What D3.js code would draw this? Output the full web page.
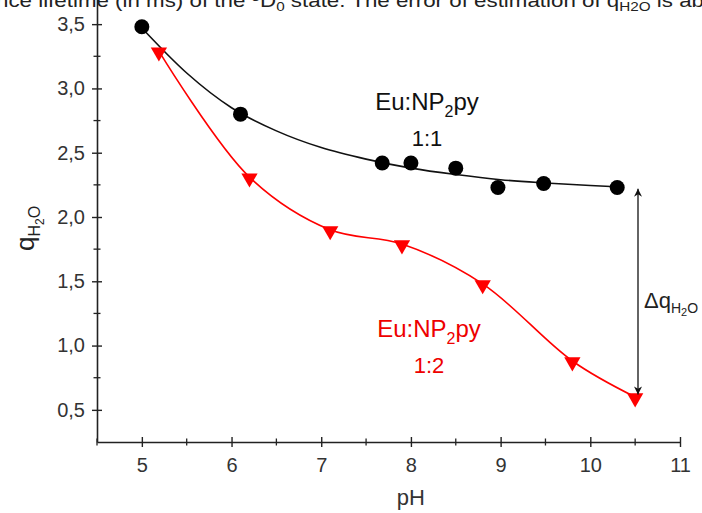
<!DOCTYPE html>
<html>
<head>
<meta charset="utf-8">
<script src="https://cdn.jsdelivr.net/npm/d3@7"></script>
<style>
  body { margin: 0; background: #fff; }
  svg { display: block; font-family: "Liberation Sans", Arial, sans-serif; }
</style>
</head>
<body>
<div id="chart"></div>
<script>
// données
const blackPH = [5.0, 6.1, 7.68, 8.0, 8.5, 8.97, 9.48, 10.3];
const blackQ  = [3.48, 2.80, 2.42, 2.42, 2.38, 2.23, 2.26, 2.23];
// courbe d'ajustement (noir)
const blackFitPH = [5.0, 5.5, 6.0, 6.5, 7.0, 7.5, 8.0, 8.5, 9.0, 9.5, 10.0, 10.3];
const blackFitQ  = [3.47, 3.12, 2.85, 2.67, 2.54, 2.45, 2.38, 2.33, 2.29, 2.265, 2.245, 2.235];
const redPH = [5.19, 6.2, 7.1, 7.9, 8.8, 9.8, 10.5];
const redQ  = [3.29, 2.31, 1.90, 1.79, 1.48, 0.88, 0.60];
const xTicks = [5, 6, 7, 8, 9, 10, 11];
const xMinor = [4.5, 5.5, 6.5, 7.5, 8.5, 9.5, 10.5];
const yTicks = [0.5, 1.0, 1.5, 2.0, 2.5, 3.0, 3.5];
const yMinor = [0.75, 1.25, 1.75, 2.25, 2.75, 3.25];
const arrowQ = [2.22, 0.62];

const width = 702, height = 513;
const svg = d3.select("#chart").append("svg")
    .attr("width", width).attr("height", height);

const x = d3.scaleLinear().domain([4.5, 11]).range([97, 680]);
const y = d3.scaleLinear().domain([0.25, 3.75]).range([442, -8]);
const fmt = d => d3.format(".1f")(d).replace(".", ",");

// légende coupée en haut
svg.append("text")
    .attr("x", -4).attr("y", 7)
    .attr("font-size", 19).attr("fill", "#222")
    .attr("textLength", 708).attr("lengthAdjust", "spacingAndGlyphs")
    .html('nce lifetime (in ms) of the <tspan dy="-6" font-size="13">5</tspan><tspan dy="6">D</tspan><tspan dy="4" font-size="13">0</tspan><tspan dy="-4"> state. The error of estimation of q</tspan><tspan dy="4" font-size="13">H2O</tspan><tspan dy="-4"> is ab</tspan>');

// axe X
const gx = svg.append("g").attr("transform", `translate(0,${y(0.25)})`)
    .call(d3.axisBottom(x).tickValues(xTicks).tickFormat(d3.format("d")).tickSizeInner(5).tickSizeOuter(0).tickPadding(11));
gx.selectAll(".tick line").attr("y1", -5);
gx.selectAll(".tick text").attr("font-size", 20).attr("fill", "#333").attr("font-family", "Liberation Sans, Arial");
gx.selectAll(".minor").data(xMinor).enter().append("line")
    .attr("x1", d => x(d)).attr("x2", d => x(d)).attr("y1", -3.5).attr("y2", 3.5)
    .attr("stroke", "#222").attr("stroke-width", 1.3);

// axe Y
const gy = svg.append("g").attr("transform", `translate(${x(4.5)},0)`)
    .call(d3.axisLeft(y).tickValues(yTicks).tickFormat(fmt).tickSizeInner(5).tickSizeOuter(0).tickPadding(7));
gy.selectAll(".tick line").attr("x1", 5);
gy.selectAll(".tick text").attr("font-size", 20).attr("fill", "#333").attr("font-family", "Liberation Sans, Arial");
gy.selectAll(".minor").data(yMinor).enter().append("line")
    .attr("y1", d => y(d)).attr("y2", d => y(d)).attr("x1", -3.5).attr("x2", 3.5)
    .attr("stroke", "#222").attr("stroke-width", 1.3);

[gx, gy].forEach(g => {
    g.select(".domain").attr("stroke", "#222").attr("stroke-width", 1.6);
    g.selectAll(".tick line").attr("stroke", "#222").attr("stroke-width", 1.4);
});

// titres des axes
svg.append("text").attr("x", x(8)).attr("y", 505)
    .attr("text-anchor", "middle").attr("font-size", 22).attr("fill", "#333").text("pH");
svg.append("text")
    .attr("transform", `translate(34,${y(2.0) + 34}) rotate(-90)`)
    .attr("font-size", 26).attr("fill", "#222")
    .html('q<tspan dy="6" font-size="16">H</tspan><tspan dy="4" font-size="12">2</tspan><tspan dy="-4" font-size="16">O</tspan>');

// courbes
const line = d3.line().x(d => x(d[0])).y(d => y(d[1]));
svg.append("path")
    .datum(blackFitPH.map((p, i) => [p, blackFitQ[i]]))
    .attr("d", line.curve(d3.curveMonotoneX))
    .attr("fill", "none").attr("stroke", "#111").attr("stroke-width", 1.6);
svg.append("path")
    .datum(redPH.map((p, i) => [p, redQ[i]]))
    .attr("d", line.curve(d3.curveCatmullRom.alpha(0.5)))
    .attr("fill", "none").attr("stroke", "#f00").attr("stroke-width", 1.6);

// points
svg.selectAll(".pt").data(blackPH.map((p, i) => [p, blackQ[i]])).enter().append("circle")
    .attr("cx", d => x(d[0])).attr("cy", d => y(d[1])).attr("r", 7.5).attr("fill", "#000");
svg.selectAll(".tri").data(redPH.map((p, i) => [p, redQ[i]])).enter().append("path")
    .attr("d", d3.symbol().type(d3.symbolTriangle).size(115))
    .attr("transform", d => `translate(${x(d[0])},${y(d[1]) + 1}) rotate(180)`)
    .attr("fill", "#f00");

// annotations
const lab = (cx, cy, color, ratio) => {
    svg.append("text").attr("x", cx).attr("y", cy).attr("text-anchor", "middle")
        .attr("font-size", 24).attr("fill", color)
        .html('Eu:NP<tspan dy="7" font-size="16">2</tspan><tspan dy="-7">py</tspan>');
    svg.append("text").attr("x", cx).attr("y", cy + 36).attr("text-anchor", "middle")
        .attr("font-size", 22).attr("fill", color).text(ratio);
};
lab(427, 110, "#111", "1:1");
lab(429, 337, "#e00", "1:2");

// flèche Δq
const defs = svg.append("defs");
defs.append("marker").attr("id", "ah").attr("viewBox", "0 0 10 10")
    .attr("refX", 10).attr("refY", 5).attr("markerWidth", 11).attr("markerHeight", 8)
    .attr("markerUnits", "userSpaceOnUse").attr("orient", "auto-start-reverse")
    .append("path").attr("d", "M0,0 L10,5 L0,10 L3,5 Z").attr("fill", "#111");
svg.append("line")
    .attr("x1", 638).attr("x2", 638).attr("y1", y(arrowQ[0])).attr("y2", y(arrowQ[1]))
    .attr("stroke", "#111").attr("stroke-width", 1.3)
    .attr("marker-start", "url(#ah)").attr("marker-end", "url(#ah)");
svg.append("text").attr("x", 644).attr("y", 308)
    .attr("font-size", 22).attr("fill", "#222")
    .html('Δq<tspan dy="5" font-size="14">H</tspan><tspan dy="3" font-size="11">2</tspan><tspan dy="-3" font-size="14">O</tspan>');
</script>
</body>
</html>
